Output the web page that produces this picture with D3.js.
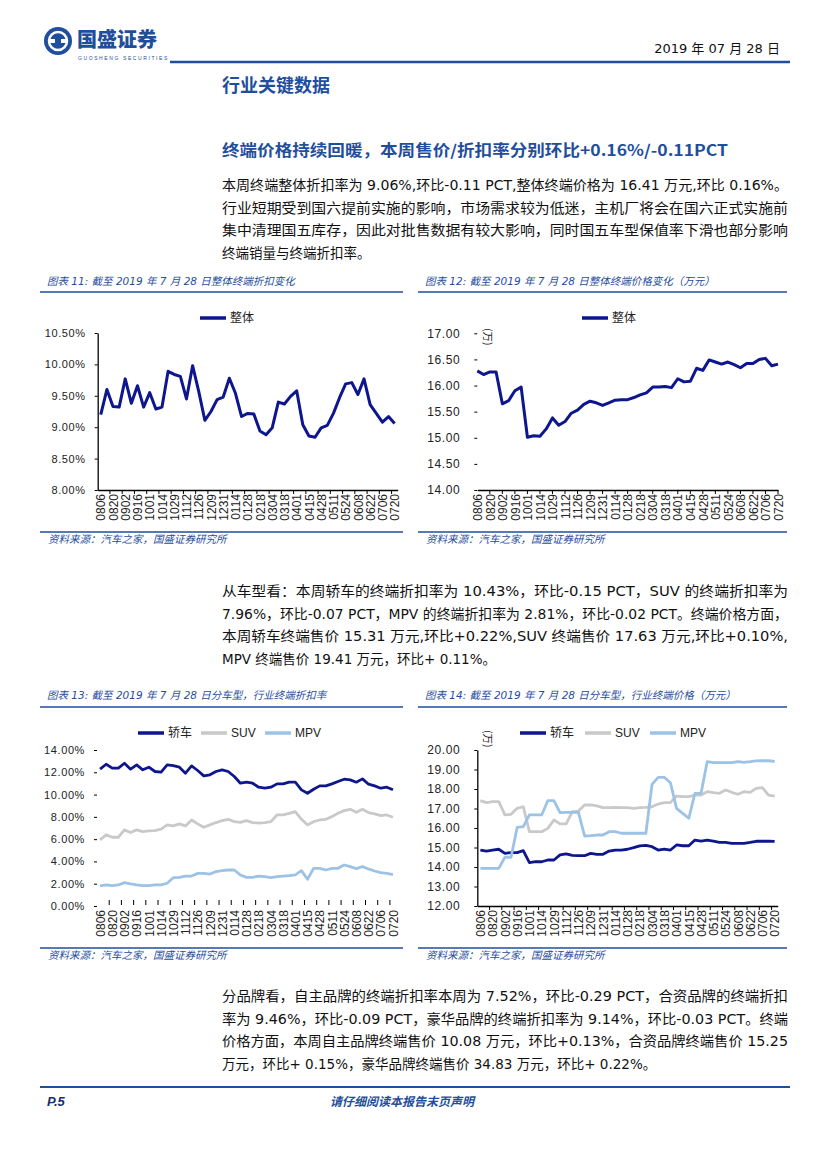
<!DOCTYPE html>
<html><head><meta charset="utf-8">
<script src="https://cdn.jsdelivr.net/npm/d3@7"></script>
<style>
body{margin:0;background:#fff}
svg{display:block}
</style></head><body>
<svg id="page" width="827" height="1170"></svg>
<script>
// ---------------- DATA ----------------
const dates = ["0806","0813","0820","0827","0902","0909","0916","0923","1001","1007","1014","1021","1029","1104","1112","1118","1126","1202","1209","1216","1231","0107","0114","0121","0128","0204","0218","0225","0304","0311","0318","0325","0401","0408","0415","0421","0428","0505","0511","0518","0524","0601","0608","0615","0622","0629","0706","0713","0720"];
const overallDiscount = [9.20,9.60,9.33,9.32,9.77,9.38,9.66,9.32,9.55,9.29,9.32,9.89,9.84,9.81,9.45,9.98,9.57,9.11,9.25,9.44,9.48,9.78,9.54,9.17,9.22,9.21,8.94,8.88,8.99,9.40,9.37,9.49,9.58,9.04,8.86,8.84,8.99,9.03,9.22,9.47,9.69,9.71,9.52,9.77,9.36,9.22,9.08,9.17,9.06];
const overallPrice = [16.28,16.21,16.26,16.26,15.65,15.71,15.90,15.97,15.01,15.04,15.03,15.17,15.38,15.24,15.31,15.47,15.53,15.64,15.70,15.67,15.62,15.67,15.72,15.73,15.73,15.77,15.82,15.86,15.97,15.97,15.98,15.96,16.13,16.07,16.08,16.33,16.29,16.49,16.45,16.41,16.45,16.40,16.34,16.42,16.42,16.50,16.52,16.38,16.41];
const sedanDiscount = [12.28,12.72,12.37,12.37,12.81,12.28,12.66,12.22,12.46,12.07,12.01,12.66,12.60,12.46,11.92,12.57,12.16,11.68,11.77,12.07,12.22,12.07,11.62,11.02,11.11,11.02,10.66,10.57,10.66,10.96,10.96,11.11,11.11,10.42,10.12,10.48,10.78,10.78,10.96,11.17,11.38,11.32,11.11,11.41,10.93,10.78,10.57,10.66,10.43];
const suvDiscount = [5.93,6.38,6.17,6.17,6.83,6.59,6.83,6.68,6.74,6.77,6.89,7.28,7.19,7.37,7.19,7.72,7.37,7.07,7.28,7.49,7.66,7.78,7.57,7.51,7.66,7.49,7.43,7.49,7.57,8.17,8.17,8.32,8.47,7.78,7.28,7.57,7.72,7.78,8.02,8.32,8.56,8.68,8.41,8.68,8.38,8.26,8.11,8.17,7.96];
const mpvDiscount = [1.80,1.89,1.83,1.89,2.10,1.98,1.89,1.83,1.83,1.89,1.89,2.04,2.54,2.57,2.69,2.69,2.93,2.93,2.87,3.08,3.17,3.23,3.23,2.78,2.57,2.57,2.69,2.63,2.54,2.63,2.69,2.72,2.80,3.17,2.40,3.38,3.38,3.23,3.38,3.38,3.68,3.53,3.35,3.53,3.32,3.14,2.99,2.93,2.81];
const sedanPrice = [14.87,14.82,14.87,14.91,14.70,14.74,14.74,14.84,14.22,14.27,14.27,14.36,14.36,14.62,14.67,14.60,14.58,14.58,14.70,14.65,14.65,14.82,14.87,14.87,14.91,14.99,15.08,15.11,15.04,14.87,14.92,14.87,15.13,15.09,15.09,15.38,15.33,15.38,15.33,15.26,15.26,15.21,15.21,15.21,15.26,15.32,15.32,15.32,15.31];
const suvPrice = [17.40,17.30,17.35,17.35,16.67,16.70,17.01,17.09,15.81,15.81,15.81,15.98,16.41,16.21,16.21,16.84,16.87,17.18,17.18,17.13,17.04,17.04,17.06,17.04,17.04,17.01,17.04,17.06,17.09,17.23,17.30,17.30,17.64,17.61,17.61,17.69,17.69,17.86,17.81,17.78,17.95,17.83,17.73,17.86,17.83,18.03,18.07,17.69,17.63];
const mpvPrice = [13.93,13.93,13.93,13.93,14.50,14.50,16.03,16.07,16.67,16.67,16.67,17.40,17.40,16.79,16.80,16.80,16.80,15.59,15.61,15.64,15.64,15.81,15.81,15.73,15.73,15.73,15.73,15.73,18.24,18.60,18.60,18.32,17.01,16.75,16.50,17.78,17.78,19.40,19.35,19.35,19.35,19.35,19.40,19.37,19.40,19.44,19.45,19.45,19.41];
const overallDiscountTicks = [8,8.5,9,9.5,10,10.5];
const overallPriceTicks = [14,14.5,15,15.5,16,16.5,17];
const typeDiscountTicks = [0,2,4,6,8,10,12,14];
const typePriceTicks = [12,13,14,15,16,17,18,19,20];
const seriesNames = ["轿车","SUV","MPV"];
const overallName = "整体";

const para1 = ["本周终端整体折扣率为 9.06%,环比-0.11 PCT,整体终端价格为 16.41 万元,环比 0.16%。",
"行业短期受到国六提前实施的影响，市场需求较为低迷，主机厂将会在国六正式实施前",
"集中清理国五库存，因此对批售数据有较大影响，同时国五车型保值率下滑也部分影响",
"终端销量与终端折扣率。"];
const para2 = ["从车型看：本周轿车的终端折扣率为 10.43%，环比-0.15 PCT，SUV 的终端折扣率为",
"7.96%，环比-0.07 PCT，MPV 的终端折扣率为 2.81%，环比-0.02 PCT。终端价格方面，",
"本周轿车终端售价 15.31 万元,环比+0.22%,SUV 终端售价 17.63 万元,环比+0.10%,",
"MPV 终端售价 19.41 万元，环比+ 0.11%。"];
const para3 = ["分品牌看，自主品牌的终端折扣率本周为 7.52%，环比-0.29 PCT，合资品牌的终端折扣",
"率为 9.46%，环比-0.09 PCT，豪华品牌的终端折扣率为 9.14%，环比-0.03 PCT。终端",
"价格方面，本周自主品牌终端售价 10.08 万元，环比+0.13%，合资品牌终端售价 15.25",
"万元，环比+ 0.15%，豪华品牌终端售价 34.83 万元，环比+ 0.22%。"];

// ---------------- STYLE ----------------
const NAVY = "#0d168c", GRAY = "#c9c9c9", LIGHT = "#9cc2e5", BLUE = "#1f4e9c";
const svg = d3.select("#page");
const CJK = "'DejaVu Sans','Noto Sans CJK SC',sans-serif";
const AX = "'Liberation Sans',Arial,sans-serif";

// ---------------- HEADER ----------------
const logo = svg.append("g").attr("transform","translate(58,41)");
logo.append("circle").attr("r",14).attr("fill",BLUE);
logo.append("circle").attr("r",9).attr("fill","none").attr("stroke","#fff").attr("stroke-width",2.5);
logo.append("rect").attr("x",-10).attr("y",-2).attr("width",20).attr("height",4).attr("fill","#fff");
logo.append("rect").attr("x",-3).attr("y",-2).attr("width",6).attr("height",4).attr("fill",BLUE);
svg.append("text").attr("x",77).attr("y",47).text("国盛证券")
  .attr("font-family","'Noto Sans CJK SC'").attr("font-weight",900).attr("font-size",20).attr("fill",BLUE);
svg.append("text").attr("x",78).attr("y",60).text("GUOSHENG SECURITIES")
  .attr("font-family",AX).attr("font-size",5).attr("letter-spacing",1.6).attr("fill",BLUE);
svg.append("text").attr("x",780).attr("y",53).attr("text-anchor","end").text("2019 年 07 月 28 日")
  .attr("font-family",CJK).attr("font-size",13).attr("fill","#111");
svg.append("line").attr("x1",170).attr("x2",790).attr("y1",62).attr("y2",62).attr("stroke",BLUE).attr("stroke-width",2.5);
svg.append("text").attr("x",222).attr("y",92).text("行业关键数据")
  .attr("font-family","'Noto Sans CJK SC'").attr("font-weight",700).attr("font-size",18).attr("fill",BLUE);
svg.append("text").attr("x",222).attr("y",156).text("终端价格持续回暖，本周售价/折扣率分别环比+0.16%/-0.11PCT")
  .attr("font-family","'Noto Sans CJK SC'").attr("font-weight",700).attr("font-size",15.5).attr("fill",BLUE)
  .attr("textLength",506).attr("lengthAdjust","spacingAndGlyphs");

function paragraph(lines, y0){
  lines.forEach((t,i)=>{
    const el = svg.append("text").attr("x",222).attr("y",y0+i*22.5).text(t)
      .attr("font-family",CJK).attr("font-size",13.5).attr("fill","#111");
    if(i<lines.length-1) el.attr("textLength",566).attr("lengthAdjust","spacingAndGlyphs");
  });
}
paragraph(para1,190);
paragraph(para2,596);
paragraph(para3,1001);

// footer
svg.append("line").attr("x1",40).attr("x2",790).attr("y1",1087).attr("y2",1087).attr("stroke",BLUE).attr("stroke-width",2);
svg.append("text").attr("x",47).attr("y",1106).text("P.5").attr("font-family",AX).attr("font-weight",700)
  .attr("font-style","italic").attr("font-size",13).attr("fill","#1a2e6e");
svg.append("text").attr("x",330).attr("y",1106).text("请仔细阅读本报告末页声明").attr("font-family","'Noto Sans CJK SC'")
  .attr("font-weight",700).attr("font-style","italic").attr("font-size",12).attr("fill",BLUE);

// ---------------- CHART FRAME ----------------
function frame(x1,x2,capY,lineY,srcLineY,caption){
  svg.append("text").attr("x",x1+7).attr("y",capY).text(caption).attr("font-family",CJK)
    .attr("font-style","italic").attr("font-size",10.5).attr("fill",BLUE);
  svg.append("line").attr("x1",x1).attr("x2",x2).attr("y1",lineY).attr("y2",lineY).attr("stroke",BLUE).attr("stroke-width",1.5);
  svg.append("line").attr("x1",x1).attr("x2",x2).attr("y1",srcLineY).attr("y2",srcLineY).attr("stroke",BLUE).attr("stroke-width",1.5);
  svg.append("text").attr("x",x1+8).attr("y",srcLineY+11).text("资料来源：汽车之家，国盛证券研究所").attr("font-family",CJK)
    .attr("font-style","italic").attr("font-size",10.5).attr("fill",BLUE);
}
frame(40,403,285,292,532,"图表 11:  截至 2019 年 7 月 28 日整体终端折扣变化");
frame(418,787,285,292,532,"图表 12:  截至 2019 年 7 月 28 日整体终端价格变化（万元）");
frame(40,403,699,707,948,"图表 13:  截至 2019 年 7 月 28 日分车型，行业终端折扣率");
frame(418,787,699,707,948,"图表 14:  截至 2019 年 7 月 28 日分车型，行业终端价格（万元）");

// ---------------- GENERIC CHART ----------------
function chart(opt){
  const g = svg.append("g");
  const x = d3.scalePoint().domain(dates).range(opt.xr).padding(opt.pad);
  const y = d3.scaleLinear().domain(opt.yd).range([opt.y0,opt.y1]);
  const step = x.step();
  const ya = d3.axisLeft(y).tickValues(opt.yticks).tickFormat(opt.fmt).tickSize(3).tickSizeOuter(0).tickPadding(opt.ypad);
  const yg = g.append("g").attr("transform",`translate(${opt.xr[0]},0)`).call(ya);
  yg.selectAll("text").attr("font-family",AX).attr("font-size",opt.yfs).attr("fill","#222").attr("letter-spacing",0.6);
  yg.selectAll("line").attr("stroke","#000");
  yg.select(".domain").attr("stroke",opt.yline?"#000":"none").attr("stroke-width",1.3);
  const labelDates = dates.filter((d,i)=>i%2===0);
  const xa = d3.axisBottom(x).tickValues(labelDates).tickSize(0).tickSizeOuter(0);
  const xg = g.append("g").attr("transform",`translate(0,${opt.y0})`).call(xa);
  xg.select(".domain").attr("stroke",opt.xline?"#000":"none").attr("stroke-width",1.3);
  xg.selectAll("text").attr("font-family",AX).attr("font-size",12).attr("fill","#222")
    .attr("text-anchor","end").attr("dy","0.35em").attr("transform","translate(0,4) rotate(-90)").attr("x",0).attr("y",0);
  const tickPos = labelDates.slice(1).map(d => opt.pad>0 ? x(d)-step/2 : x(d));
  const t0 = opt.xline ? opt.y0 : opt.y0-6, t1 = opt.xline ? opt.y0+4 : opt.y0-1;
  g.selectAll(".xt").data(tickPos).join("line").attr("x1",d=>d).attr("x2",d=>d)
    .attr("y1",t0).attr("y2",t1).attr("stroke","#000");
  const line = d3.line().x((v,i)=>x(dates[i])).y(v=>y(v)).curve(d3.curveLinear);
  opt.series.forEach(s=>{
    g.append("path").datum(s.values).attr("d",line).attr("fill","none").attr("stroke",s.color)
      .attr("stroke-width",opt.lw).attr("stroke-linejoin","round");
  });
  opt.legend.forEach(l=>{
    g.append("line").attr("x1",l.x).attr("x2",l.x+26).attr("y1",opt.ly).attr("y2",opt.ly).attr("stroke",l.color).attr("stroke-width",3.5);
    g.append("text").attr("x",l.x+30).attr("y",opt.ly).attr("dy","0.35em").text(l.name)
      .attr("font-family",/[A-Z]/.test(l.name)?AX:"'Noto Sans CJK SC'").attr("font-size",12).attr("fill","#222");
  });
  if(opt.unit){
    g.append("text").attr("transform",`translate(${opt.unit[0]},${opt.unit[1]}) rotate(90)`).text("(万)")
      .attr("font-family","'Noto Sans CJK SC'").attr("font-size",10.5).attr("fill","#222");
  }
}

chart({xr:[97.7,397.7],pad:0.5,yd:[8,10.5],y0:490,y1:333,yticks:overallDiscountTicks,
  fmt:d=>d.toFixed(2)+"%",ypad:9,yfs:11,yline:true,xline:true,lw:3,
  series:[{values:overallDiscount,color:NAVY}],ly:318,legend:[{x:200,name:overallName,color:NAVY}]});

chart({xr:[477.3,778],pad:0,yd:[14,17],y0:490,y1:333.3,yticks:overallPriceTicks,
  fmt:d=>d.toFixed(2),ypad:14,yfs:12,yline:false,xline:true,lw:3,
  series:[{values:overallPrice,color:NAVY}],ly:318,legend:[{x:582,name:overallName,color:NAVY}],unit:[484,328]});

chart({xr:[97,396],pad:0.5,yd:[0,14],y0:906,y1:750,yticks:typeDiscountTicks,
  fmt:d=>d.toFixed(2)+"%",ypad:9,yfs:11,yline:false,xline:false,lw:2.8,
  series:[{values:sedanDiscount,color:NAVY},{values:suvDiscount,color:GRAY},{values:mpvDiscount,color:LIGHT}],
  ly:733,legend:[{x:138,name:seriesNames[0],color:NAVY},{x:201,name:seriesNames[1],color:GRAY},{x:265,name:seriesNames[2],color:LIGHT}]});

chart({xr:[477.3,777.7],pad:0.5,yd:[12,20],y0:906,y1:750,yticks:typePriceTicks,
  fmt:d=>d.toFixed(2),ypad:14,yfs:12,yline:true,xline:true,lw:2.8,
  series:[{values:sedanPrice,color:NAVY},{values:suvPrice,color:GRAY},{values:mpvPrice,color:LIGHT}],
  ly:733,legend:[{x:520,name:seriesNames[0],color:NAVY},{x:585,name:seriesNames[1],color:GRAY},{x:650,name:seriesNames[2],color:LIGHT}],unit:[484,730]});
</script>
</body></html>
